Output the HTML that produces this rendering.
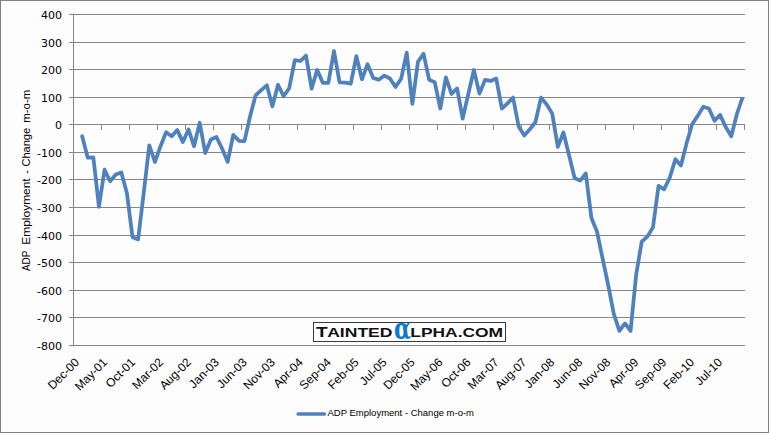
<!DOCTYPE html>
<html><head><meta charset="utf-8"><title>ADP Employment - Change m-o-m</title>
<style>
html,body{margin:0;padding:0;background:#fff;}
svg{display:block;}
.ax text{font-family:"DejaVu Sans","Liberation Sans",sans-serif;font-size:11px;fill:#000;}
.xl text{font-family:"Liberation Sans",sans-serif;font-size:12px;fill:#000;}
</style></head><body>
<svg width="769" height="433" viewBox="0 0 769 433">
<rect x="0.5" y="0.5" width="768" height="432" fill="#fcfdfc" stroke="#808080" stroke-width="1"/>
<g stroke="#868686" stroke-width="1" shape-rendering="crispEdges">
<line x1="69" y1="14.5" x2="745" y2="14.5"/>
<line x1="69" y1="42.5" x2="745" y2="42.5"/>
<line x1="69" y1="69.5" x2="745" y2="69.5"/>
<line x1="69" y1="97.5" x2="745" y2="97.5"/>
<line x1="69" y1="124.5" x2="745" y2="124.5"/>
<line x1="69" y1="152.5" x2="745" y2="152.5"/>
<line x1="69" y1="179.5" x2="745" y2="179.5"/>
<line x1="69" y1="207.5" x2="745" y2="207.5"/>
<line x1="69" y1="235.5" x2="745" y2="235.5"/>
<line x1="69" y1="262.5" x2="745" y2="262.5"/>
<line x1="69" y1="290.5" x2="745" y2="290.5"/>
<line x1="69" y1="317.5" x2="745" y2="317.5"/>
<line x1="69" y1="345.5" x2="745" y2="345.5"/>
<line x1="73.5" y1="14" x2="73.5" y2="346"/>
<line x1="101.5" y1="125" x2="101.5" y2="130"/>
<line x1="129.5" y1="125" x2="129.5" y2="130"/>
<line x1="157.5" y1="125" x2="157.5" y2="130"/>
<line x1="185.5" y1="125" x2="185.5" y2="130"/>
<line x1="213.5" y1="125" x2="213.5" y2="130"/>
<line x1="241.5" y1="125" x2="241.5" y2="130"/>
<line x1="269.5" y1="125" x2="269.5" y2="130"/>
<line x1="297.5" y1="125" x2="297.5" y2="130"/>
<line x1="325.5" y1="125" x2="325.5" y2="130"/>
<line x1="353.5" y1="125" x2="353.5" y2="130"/>
<line x1="381.5" y1="125" x2="381.5" y2="130"/>
<line x1="409.5" y1="125" x2="409.5" y2="130"/>
<line x1="437.5" y1="125" x2="437.5" y2="130"/>
<line x1="465.5" y1="125" x2="465.5" y2="130"/>
<line x1="493.5" y1="125" x2="493.5" y2="130"/>
<line x1="521.5" y1="125" x2="521.5" y2="130"/>
<line x1="549.5" y1="125" x2="549.5" y2="130"/>
<line x1="577.5" y1="125" x2="577.5" y2="130"/>
<line x1="605.5" y1="125" x2="605.5" y2="130"/>
<line x1="633.5" y1="125" x2="633.5" y2="130"/>
<line x1="661.5" y1="125" x2="661.5" y2="130"/>
<line x1="688.5" y1="125" x2="688.5" y2="130"/>
<line x1="716.5" y1="125" x2="716.5" y2="130"/>
<line x1="744.5" y1="125" x2="744.5" y2="130"/>
</g>
<g class="ax" text-anchor="end">
<text x="62" y="18.5">400</text>
<text x="62" y="46.5">300</text>
<text x="62" y="73.5">200</text>
<text x="62" y="101.5">100</text>
<text x="62" y="128.5">0</text>
<text x="62" y="156.5">-100</text>
<text x="62" y="183.5">-200</text>
<text x="62" y="211.5">-300</text>
<text x="62" y="239.5">-400</text>
<text x="62" y="266.5">-500</text>
<text x="62" y="294.5">-600</text>
<text x="62" y="321.5">-700</text>
<text x="62" y="349.5">-800</text>
</g>
<g class="xl" text-anchor="end">
<text transform="translate(80.00,363.0) rotate(-45)" x="0" y="0">Dec-00</text>
<text transform="translate(107.95,363.0) rotate(-45)" x="0" y="0">May-01</text>
<text transform="translate(135.91,363.0) rotate(-45)" x="0" y="0">Oct-01</text>
<text transform="translate(163.87,363.0) rotate(-45)" x="0" y="0">Mar-02</text>
<text transform="translate(191.83,363.0) rotate(-45)" x="0" y="0">Aug-02</text>
<text transform="translate(219.79,363.0) rotate(-45)" x="0" y="0">Jan-03</text>
<text transform="translate(247.75,363.0) rotate(-45)" x="0" y="0">Jun-03</text>
<text transform="translate(275.70,363.0) rotate(-45)" x="0" y="0">Nov-03</text>
<text transform="translate(303.66,363.0) rotate(-45)" x="0" y="0">Apr-04</text>
<text transform="translate(331.62,363.0) rotate(-45)" x="0" y="0">Sep-04</text>
<text transform="translate(359.58,363.0) rotate(-45)" x="0" y="0">Feb-05</text>
<text transform="translate(387.54,363.0) rotate(-45)" x="0" y="0">Jul-05</text>
<text transform="translate(415.50,363.0) rotate(-45)" x="0" y="0">Dec-05</text>
<text transform="translate(443.45,363.0) rotate(-45)" x="0" y="0">May-06</text>
<text transform="translate(471.41,363.0) rotate(-45)" x="0" y="0">Oct-06</text>
<text transform="translate(499.37,363.0) rotate(-45)" x="0" y="0">Mar-07</text>
<text transform="translate(527.33,363.0) rotate(-45)" x="0" y="0">Aug-07</text>
<text transform="translate(555.29,363.0) rotate(-45)" x="0" y="0">Jan-08</text>
<text transform="translate(583.25,363.0) rotate(-45)" x="0" y="0">Jun-08</text>
<text transform="translate(611.20,363.0) rotate(-45)" x="0" y="0">Nov-08</text>
<text transform="translate(639.16,363.0) rotate(-45)" x="0" y="0">Apr-09</text>
<text transform="translate(667.12,363.0) rotate(-45)" x="0" y="0">Sep-09</text>
<text transform="translate(695.08,363.0) rotate(-45)" x="0" y="0">Feb-10</text>
<text transform="translate(723.04,363.0) rotate(-45)" x="0" y="0">Jul-10</text>
</g>
<g transform="translate(30.2,271.8) rotate(-90)" font-family="Liberation Sans, sans-serif" font-size="11" fill="#000" lengthAdjust="spacingAndGlyphs">
<text x="0.7" y="0" textLength="20.4" lengthAdjust="spacingAndGlyphs">ADP</text>
<text x="27.1" y="0" textLength="66.4" lengthAdjust="spacingAndGlyphs">Employment</text>
<text x="98" y="0" textLength="3.8" lengthAdjust="spacingAndGlyphs">-</text>
<text x="105.2" y="0" textLength="38.8" lengthAdjust="spacingAndGlyphs">Change</text>
<text x="149.1" y="0" textLength="33" lengthAdjust="spacingAndGlyphs">m-o-m</text>
</g>
<g>
<rect x="313.5" y="322.5" width="192" height="19" fill="#fff" stroke="#3a3a3a" stroke-width="1"/>
<text x="316" y="337.2" font-family="Liberation Sans, sans-serif" font-weight="bold" fill="#111" font-size="15.2" textLength="11.6" lengthAdjust="spacingAndGlyphs">T</text>
<text x="327.2" y="337.2" font-family="Liberation Sans, sans-serif" font-weight="bold" fill="#111" font-size="12.6" textLength="65.3" lengthAdjust="spacingAndGlyphs">AINTED</text>
<text transform="translate(393.9,339.4) scale(0.76,1)" x="0" y="0" font-family="DejaVu Serif, serif" font-weight="bold" fill="#0a78d2" font-size="29">&#945;</text>
<text x="410.3" y="337" font-family="Liberation Sans, sans-serif" font-weight="bold" fill="#111" font-size="12" textLength="92.8" lengthAdjust="spacingAndGlyphs">LPHA.COM</text>
</g>
<polyline points="82.16,136.10 87.76,157.70 93.35,157.40 98.95,206.80 104.55,169.70 110.14,181.30 115.74,174.50 121.33,172.50 126.93,193.20 132.53,237.30 138.12,239.40 143.72,193.00 149.31,145.30 154.91,162.00 160.51,146.20 166.10,132.20 171.70,136.30 177.29,130.10 182.89,142.10 188.49,129.40 194.08,146.30 199.68,122.70 205.27,153.00 210.87,139.50 216.47,137.00 222.06,148.50 227.66,161.90 233.25,134.90 238.85,140.80 244.45,141.10 250.04,116.50 255.64,95.30 261.23,90.20 266.83,85.30 272.43,106.40 278.02,84.70 283.62,96.20 289.21,88.20 294.81,60.20 300.41,61.00 306.00,55.50 311.60,88.60 317.19,69.90 322.79,82.80 328.39,82.80 333.98,51.00 339.58,82.40 345.17,82.60 350.77,83.60 356.37,56.20 361.96,79.30 367.56,64.20 373.15,77.90 378.75,79.80 384.35,75.60 389.94,78.50 395.54,86.90 401.13,78.80 406.73,52.60 412.33,103.90 417.92,61.90 423.52,53.70 429.11,79.70 434.71,82.10 440.31,108.50 445.90,77.30 451.50,94.00 457.09,88.40 462.69,118.70 468.29,94.00 473.88,70.00 479.48,93.60 485.07,79.90 490.67,80.90 496.27,78.60 501.86,108.60 507.46,103.40 513.05,97.50 518.65,126.50 524.25,135.50 529.84,129.30 535.44,122.00 541.03,97.60 546.63,104.40 552.23,113.60 557.82,146.90 563.42,132.50 569.01,155.00 574.61,178.00 580.21,180.60 585.80,173.50 591.40,218.00 596.99,231.50 602.59,258.50 608.19,285.00 613.78,313.90 619.38,330.90 624.97,323.40 630.57,330.90 636.17,274.60 641.76,241.60 647.36,236.60 652.95,227.40 658.55,185.80 664.15,189.30 669.74,177.70 675.34,159.20 680.93,165.50 686.53,143.60 692.13,124.20 697.72,115.90 703.32,106.70 708.91,108.50 714.51,120.80 720.11,114.90 725.70,127.00 731.30,136.30 736.89,114.00 742.49,97.60" fill="none" stroke="#4f81bd" stroke-width="3.75" stroke-linejoin="round" stroke-linecap="butt"/>
<circle cx="82.16" cy="136.10" r="1.875" fill="#4f81bd"/>
<line x1="298" y1="414" x2="324.5" y2="414" stroke="#4f81bd" stroke-width="3.4" stroke-linecap="round"/>
<text x="327.5" y="416" font-family="Liberation Sans, sans-serif" font-size="9.3" fill="#000" textLength="146.5" lengthAdjust="spacingAndGlyphs">ADP Employment - Change m-o-m</text>
</svg>
</body></html>
